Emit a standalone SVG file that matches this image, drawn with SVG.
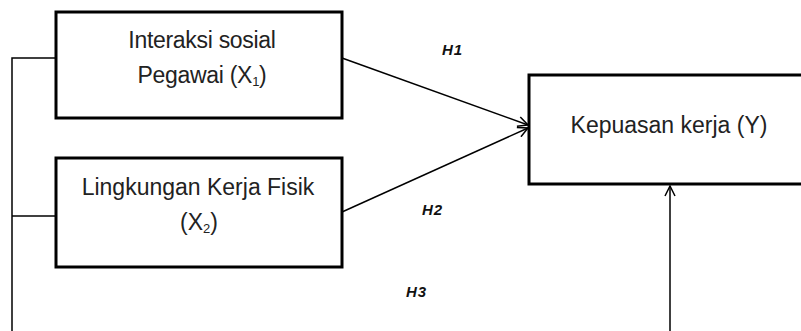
<svg xmlns="http://www.w3.org/2000/svg" width="801" height="331" viewBox="0 0 801 331">
<style>
.box{fill:#fff;stroke:#000;stroke-width:3}
.t{font-family:"Liberation Sans",Arial,sans-serif;font-size:23px;fill:#222;text-anchor:middle}
.h{font-family:"Liberation Sans",Arial,sans-serif;font-size:15px;font-weight:bold;font-style:italic;fill:#111;letter-spacing:1px}
.ln{fill:none;stroke:#000;stroke-width:1.5}
</style>
<defs>
<marker id="ah" viewBox="0 0 12 12" refX="11" refY="6" markerWidth="12" markerHeight="12" markerUnits="userSpaceOnUse" orient="auto">
<path d="M1,1 L11,6 L1,11" fill="none" stroke="#000" stroke-width="1.5"/>
</marker>
</defs>
<g id="connectors">
<polyline class="ln" points="56,58 12,58 12,331"/>
<line class="ln" x1="12" y1="216" x2="56" y2="216"/>
<line class="ln" x1="342" y1="58" x2="528" y2="125" marker-end="url(#ah)"/>
<line class="ln" x1="342" y1="212" x2="528" y2="128" marker-end="url(#ah)"/>
<line class="ln" x1="670" y1="331" x2="670" y2="186" marker-end="url(#ah)"/>
</g>
<g id="x1">
<rect class="box" x="56" y="12" width="286" height="106"/>
<text class="t" x="202" y="48" letter-spacing="-0.3">Interaksi sosial</text>
<text class="t" x="202" y="83" letter-spacing="-0.3">Pegawai (X<tspan font-size="13" dy="3">1</tspan><tspan dy="-3">)</tspan></text>
</g>
<g id="x2">
<rect class="box" x="56" y="158" width="286" height="109"/>
<text class="t" x="198" y="195">Lingkungan Kerja Fisik</text>
<text class="t" x="199" y="230">(X<tspan font-size="13" dy="3">2</tspan><tspan dy="-3">)</tspan></text>
</g>
<g id="y">
<rect class="box" x="529" y="75" width="280" height="109"/>
<text class="t" x="669" y="133">Kepuasan kerja (Y)</text>
</g>
<g id="labels">
<text class="h" x="442" y="55">H1</text>
<text class="h" x="422" y="215">H2</text>
<text class="h" x="406" y="297">H3</text>
</g>
</svg>
